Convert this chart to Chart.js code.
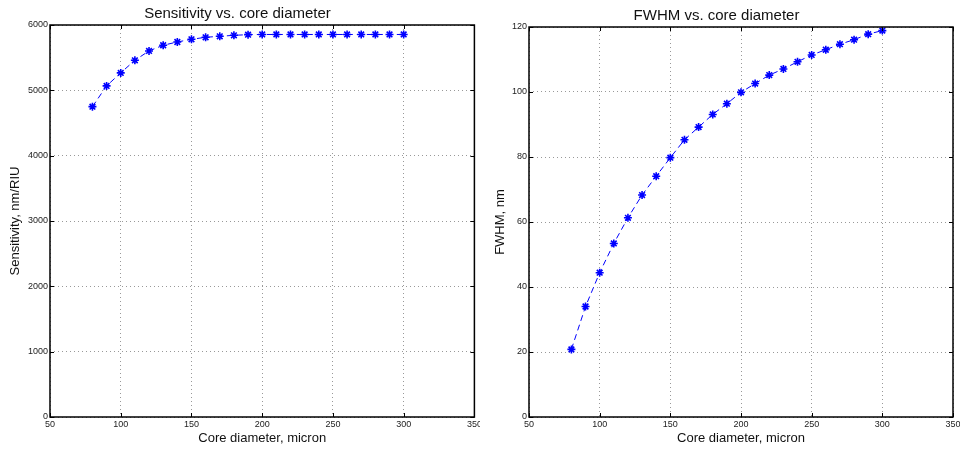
<!DOCTYPE html>
<html>
<head>
<meta charset="utf-8">
<script src="https://cdn.jsdelivr.net/npm/chart.js@4/dist/chart.umd.min.js"></script>
<style>
  body { margin: 0; background: #fff; width: 960px; height: 450px; overflow: hidden; }
  canvas { position: absolute; top: 0; }
  #sens { left: 0; }
  #fwhm { left: 480px; }
</style>
</head>
<body>
<canvas id="sens" width="480" height="450"></canvas>
<canvas id="fwhm" width="480" height="450"></canvas>
<script>
// core diameter in micron
var coreDiameter = [80, 90, 100, 110, 120, 130, 140, 150, 160, 170, 180, 190,
                    200, 210, 220, 230, 240, 250, 260, 270, 280, 290, 300];
// sensitivity, nm/RIU
var sensitivity = [4750, 5068, 5267, 5460, 5603, 5690, 5740, 5781, 5812, 5827, 5842, 5852,
                   5855, 5855, 5855, 5855, 5855, 5855, 5855, 5855, 5855, 5855, 5855];
// FWHM, nm
var fwhm = [20.8, 34.0, 44.4, 53.4, 61.3, 68.3, 74.1, 79.8, 85.3, 89.2, 93.1, 96.4,
            99.9, 102.6, 105.2, 107.1, 109.3, 111.4, 113.0, 114.7, 116.1, 117.8, 118.9];

var fontName = "'Liberation Sans', Arial, Helvetica, sans-serif";

// matlab style box with inward ticks
var boxPlugin = {
  id: 'box',
  afterDraw: function(chart) {
    var ctx = chart.ctx, a = chart.chartArea;
    var tl = 4;
    ctx.save();
    ctx.strokeStyle = '#000';
    ctx.lineWidth = 1;
    ctx.beginPath();
    chart.scales.x.ticks.forEach(function(t) {
      var px = Math.round(chart.scales.x.getPixelForValue(t.value)) + 0.5;
      ctx.moveTo(px, a.bottom); ctx.lineTo(px, a.bottom - tl);
      ctx.moveTo(px, a.top); ctx.lineTo(px, a.top + tl);
    });
    chart.scales.y.ticks.forEach(function(t) {
      var py = Math.round(chart.scales.y.getPixelForValue(t.value)) + 0.5;
      ctx.moveTo(a.left, py); ctx.lineTo(a.left + tl, py);
      ctx.moveTo(a.right, py); ctx.lineTo(a.right - tl, py);
    });
    ctx.stroke();
    ctx.lineWidth = 1.5;
    ctx.strokeRect(a.left, a.top, a.right - a.left, a.bottom - a.top);
    ctx.restore();
  }
};

function makeChart(id, title, yLabel, values, yMax, yStep, yWidth, yTitlePad, padRight, padTop, padBottom) {
  var pts = coreDiameter.map(function(d, i) { return { x: d, y: values[i] }; });
  return new Chart(document.getElementById(id), {
    type: 'line',
    data: {
      datasets: [{
        data: pts,
        borderColor: '#0000ff',
        backgroundColor: '#0000ff',
        borderWidth: 1,
        borderDash: [6, 4],
        pointStyle: 'star',
        pointRadius: 4,
        pointBorderWidth: 1.6,
        pointBorderColor: '#0000ff',
        tension: 0,
        fill: false
      }]
    },
    options: {
      responsive: false,
      animation: false,
      layout: { padding: { top: 0, right: padRight, bottom: 0, left: 0 } },
      plugins: {
        legend: { display: false },
        tooltip: { enabled: false },
        title: {
          display: true,
          text: title,
          color: '#111',
          font: { family: fontName, size: 15, weight: 'normal' },
          padding: { top: padTop, bottom: padBottom }
        }
      },
      scales: {
        x: {
          type: 'linear',
          min: 50, max: 350,
          ticks: { stepSize: 50, color: '#222', font: { family: fontName, size: 9 }, padding: 2, maxRotation: 0 },
          grid: { color: '#999', drawTicks: false, lineWidth: 1 },
          border: { display: false, dash: [1, 3] },
          title: { display: true, text: 'Core diameter, micron', color: '#111',
                   font: { family: fontName, size: 13 }, padding: { top: 0, bottom: 4 } },
          afterFit: function(s) { s.height = 33; s.paddingLeft = 0; s.paddingRight = 0; }
        },
        y: {
          min: 0, max: yMax,
          ticks: { stepSize: yStep, color: '#222', font: { family: fontName, size: 9 }, padding: 2,
                   callback: function(v) { return String(v); } },
          grid: { color: '#999', drawTicks: false, lineWidth: 1 },
          border: { display: false, dash: [1, 3] },
          title: { display: true, text: yLabel, color: '#111',
                   font: { family: fontName, size: 13 }, padding: { top: yTitlePad, bottom: 0 } },
          afterFit: function(s) { s.width = yWidth; s.paddingTop = 0; s.paddingBottom = 0; }
        }
      }
    },
    plugins: [boxPlugin]
  });
}

makeChart('sens', 'Sensitivity vs. core diameter', 'Sensitivity, nm/RIU', sensitivity, 6000, 1000, 50, 8, 5, 5, 2);
makeChart('fwhm', 'FWHM vs. core diameter', 'FWHM, nm', fwhm, 120, 20, 49, 13, 7, 7, 2);
</script>
</body>
</html>
